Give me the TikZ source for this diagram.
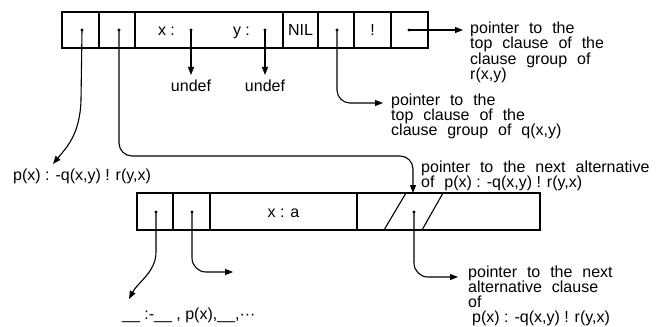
\documentclass[tikz,border=0pt]{standalone}
\usepackage{fontspec}
\setmainfont{Liberation Sans}
\usetikzlibrary{arrows.meta}
% wide word spaces for the prose labels, normal spaces inside clauses
\newcommand\widesp{\spaceskip=0.62em\relax}
\newcommand\fml[1]{{\spaceskip=0pt\relax #1}}
% fixed top of the first line: 12pt above its baseline
\newcommand\topline{\rule{0pt}{12pt}}
\begin{document}
\begin{tikzpicture}[x=1pt,y=-1pt,
  cell/.style={draw, line width=1.1pt, minimum height=36pt, inner sep=0pt,
    text height=11.5pt, text depth=0pt, font=\fontsize{16}{16}\selectfont},
  conn/.style={line width=1.1pt, -{Triangle[length=8pt,width=6pt]}},
  plain/.style={line width=1.1pt},
  lbl/.style={inner sep=0pt, anchor=north west, align=left,
    font=\fontsize{16}{15.5}\selectfont\widesp},
  dotmark/.style={fill, circle, inner sep=0pt, minimum size=3.4pt}]
\useasboundingbox (0,0) rectangle (668,326);

% ---- upper record ----
\node[cell, minimum width=37pt] (c1) at (80.5,30) {};
\node[cell, minimum width=36pt] (c2) at (117,30) {};
\node[cell, minimum width=148pt] (c3) at (209,30) {};
\node[cell, minimum width=35pt] (c4) at (300.5,30) {NIL};
\node[cell, minimum width=36pt] (c5) at (336,30) {};
\node[cell, minimum width=37pt] (c6) at (372.5,30) {!};
\node[cell, minimum width=37pt] (c7) at (409.5,30) {};
\node[inner sep=0pt, text height=11.5pt, text depth=0pt, font=\fontsize{16}{16}\selectfont] (xv) at (166.5,30) {x :};
\node[inner sep=0pt, text height=11.5pt, text depth=0pt, font=\fontsize{16}{16}\selectfont] (yv) at (241.5,30) {y :};

\node[dotmark] (p1) at (82,30) {};
\node[dotmark] (p2) at (119,30) {};
\node[dotmark] (px) at (191,30) {};
\node[dotmark] (py) at (265,30) {};
\node[dotmark] (p5) at (337,30) {};
\node[dotmark] (p7) at (409,30) {};

% ---- lower record ----
\node[cell, minimum width=36pt, minimum height=37pt] (d1) at (155,211.5) {};
\node[cell, minimum width=37pt, minimum height=37pt] (d2) at (191.5,211.5) {};
\node[cell, minimum width=147pt, minimum height=37pt] (d3) at (283.5,211.5) {x : a};
\node[cell, minimum width=183pt, minimum height=37pt] (d4) at (448.5,211.5) {};
\draw[plain] (384,230) -- (406,193);
\draw[plain] (422,230) -- (443,193);

\node[dotmark] (q1) at (156,212) {};
\node[dotmark] (q2) at (192,212) {};
\node[dotmark] (q4) at (414,212) {};

% ---- texts (first-line baseline = given y + 12) ----
\node[lbl, anchor=base] (ux) at (191,92) {undef};
\node[lbl, anchor=base] (uy) at (265,92) {undef};
\node[lbl] (rlab) at (470,21) {\topline pointer to the\\top clause of the\\clause group of\\r(x,y)};
\node[lbl, font=\fontsize{16}{15}\selectfont\widesp] (qlab) at (391,93) {\topline pointer to the\\top clause of the\\clause group of q(x,y)};
\node[lbl, anchor=base west] (plab) at (13,180) {\fml{p(x) : -q(x,y) ! r(y,x)}};
\node[lbl] (alab) at (421,160) {\topline pointer to the next alternative\\of \fml{p(x) : -q(x,y) ! r(y,x)}};
\node[lbl, font=\fontsize{16}{15}\selectfont\widesp] (clab) at (468,265) {\topline pointer to the next\\alternative clause\\of\\\hspace{4pt}\fml{p(x) : -q(x,y) ! r(y,x)}};
\node[lbl, anchor=base west] (blab) at (122,319) {\fml{\_\_ :-\_\_ , p(x),\_\_,···}};

% ---- arrow ends ----
\coordinate (tx) at (191,75);
\coordinate (ty) at (265,75);
\coordinate (tr) at (463,30);
\coordinate (tq) at (383,103);
\coordinate (tp) at (53,164);
\coordinate (ta) at (413,193);
\coordinate (tb) at (129,299);
\coordinate (tc) at (233,272);
\coordinate (td) at (458,277);

% ---- connectors ----
\draw[conn] (px.center) -- (tx);
\draw[conn] (py.center) -- (ty);
\draw[conn] (p7.center) -- (tr);
\draw[conn, rounded corners=13pt] (p5.center) -- (337,103) -- (tq);
\draw[conn] (p1.center) -- (81,100) .. controls (80,135) and (66,148) .. (tp);
\draw[conn, rounded corners=13pt] (p2.center) -- (119,156) -- (413,156) -- (ta);
\draw[conn] (q1.center) -- (156,252) .. controls (156,272) and (138,282) .. (tb);
\draw[conn, rounded corners=14pt] (q2.center) -- (192,272) -- (tc);
\draw[conn, rounded corners=14pt] (q4.center) -- (414,277) -- (td);
\end{tikzpicture}
\end{document}
